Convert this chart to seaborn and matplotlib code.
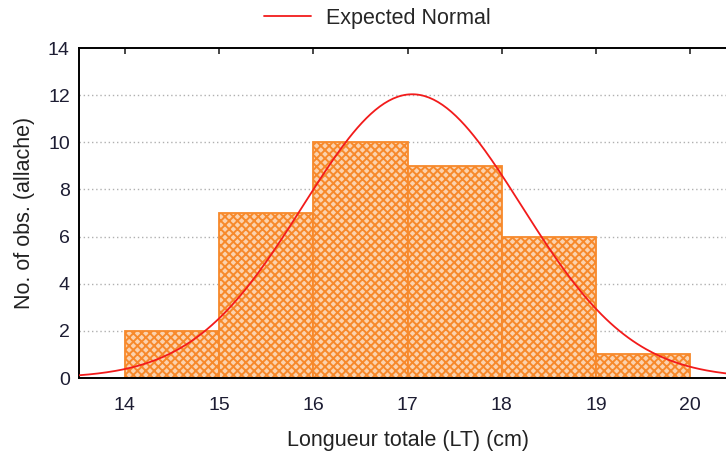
import numpy as np
import pandas as pd
import matplotlib
matplotlib.use("Agg")
import matplotlib.pyplot as plt
import seaborn as sns

# Length classes (cm) and fish counts per class
bin_edges = [14, 15, 16, 17, 18, 19, 20]
counts = [2, 7, 10, 9, 6, 1]

# Fitted normal used for the expected-frequency curve
fit_mean = 17.05
fit_sd = 1.16
n_obs = 35
bin_width = 1.0

x_ticks = [14, 15, 16, 17, 18, 19, 20]
y_ticks = [0, 2, 4, 6, 8, 10, 12, 14]

sns.set_style("white")
plt.rcParams["font.family"] = ["Liberation Sans", "DejaVu Sans"]
plt.rcParams["hatch.linewidth"] = 1.4

orange = "#F7892B"
fill = "#FBD2AE"
red = "#F21B1B"
ink = "#1d1d33"

fig = plt.figure(figsize=(7.26, 4.55), dpi=100)
ax = fig.add_axes([0.1095, 0.1692, 0.9063, 0.7253])

mids = [(a + b) / 2 for a, b in zip(bin_edges[:-1], bin_edges[1:])]
hist_df = pd.DataFrame({"length": mids, "n": counts})
sns.histplot(data=hist_df, x="length", weights="n", bins=bin_edges,
             ax=ax, stat="count", element="bars",
             facecolor=fill, edgecolor=orange, linewidth=1.3,
             alpha=1.0, zorder=2)
for p in ax.patches:
    p.set_hatch("xxxx")
    p.set_edgecolor(orange)
    p.set_facecolor(fill)

xs = np.linspace(13.5, 20.6, 300)
expected = n_obs * bin_width * np.exp(-0.5 * ((xs - fit_mean) / fit_sd) ** 2) / (fit_sd * np.sqrt(2 * np.pi))
curve_df = pd.DataFrame({"length": xs, "expected": expected})
sns.lineplot(data=curve_df, x="length", y="expected", ax=ax, color=red,
             linewidth=1.3, zorder=3, label="Expected Normal", legend=False)

ax.set_xlim(13.52, 20.5)
ax.set_ylim(0, 14)
ax.set_xticks(x_ticks)
ax.set_yticks(y_ticks)

for y in y_ticks[1:-1]:
    ax.axhline(y, color="#b0b0b0", linestyle=(0, (1, 2)), linewidth=1.0, zorder=1)

for s in ax.spines.values():
    s.set_color("black")
    s.set_linewidth(1.4)

ax.tick_params(axis="x", direction="in", length=4, width=1.2, top=True,
               labelsize=14, labelcolor=ink, pad=14)
ax.tick_params(axis="y", direction="out", length=3, width=1.0,
               labelsize=14, labelcolor=ink, pad=4)

ax.set_xlabel("Longueur totale (LT) (cm)", fontsize=15.5, color="#222222", labelpad=11)
ax.set_ylabel("No. of obs. (allache)", fontsize=15.5, color="#222222", labelpad=9)

handles, labels = ax.get_legend_handles_labels()
fig.legend(handles, labels, loc="upper center", bbox_to_anchor=(0.52, 1.025),
           frameon=False, fontsize=15.5, handlelength=2.2, handletextpad=0.7)

fig.savefig("out.png", dpi=100)
